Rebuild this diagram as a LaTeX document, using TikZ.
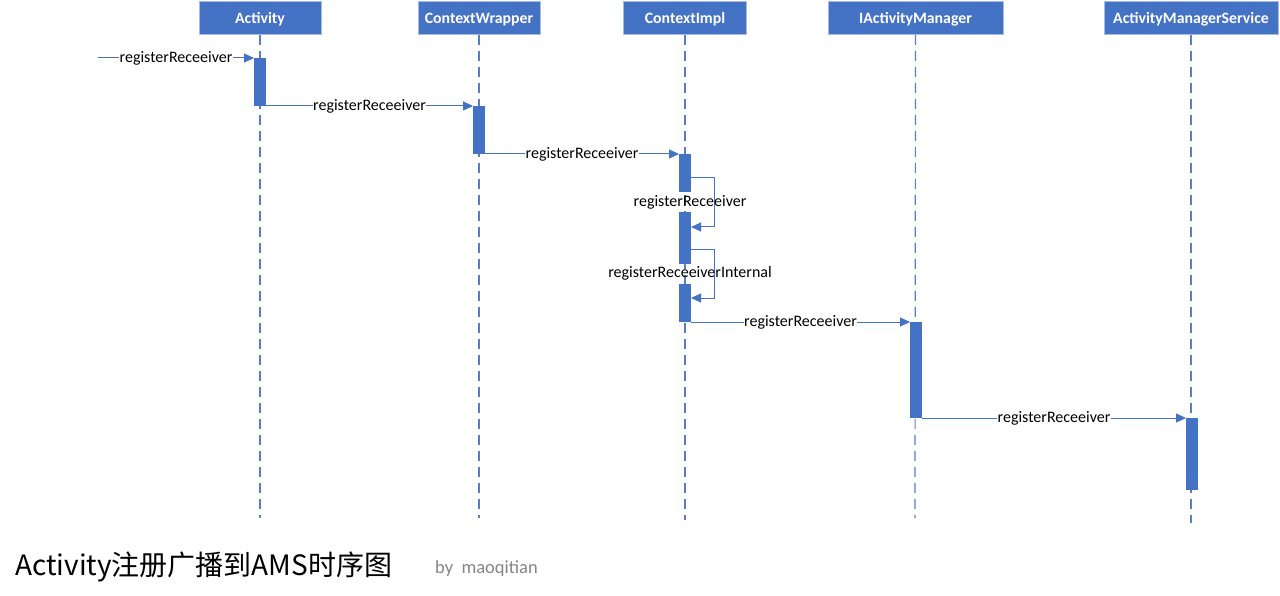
\documentclass[tikz,border=0pt]{standalone}
\usepackage{fontspec}
\setmainfont{Carlito}
\newfontfamily\cjkfont{Noto Sans CJK SC}
\usetikzlibrary{arrows.meta,calc}
\definecolor{mblue}{HTML}{4472C4}
\definecolor{lline}{HTML}{5B7EC2}
\definecolor{bordc}{HTML}{A9BCE0}
\definecolor{graytxt}{HTML}{858585}
\tikzset{
  head/.style={draw=bordc, line width=0.8pt, fill=mblue, text=white, font=\fontsize{15.8}{17}\selectfont\bfseries, minimum height=33pt, inner sep=0pt, anchor=north, text depth=0pt, yshift=0pt},
  life/.style={draw=lline, line width=1.2pt, dash pattern=on 10pt off 6pt},
  actbox/.style={fill=mblue, draw=none},
  msg/.style={draw=mblue, line width=1pt, -{Triangle[length=10pt,width=9pt]}},
  lbl/.style={fill=white, inner sep=0.5pt, font=\fontsize{16}{18}\selectfont, text=black},
}
\begin{document}
\begin{tikzpicture}[x=1pt,y=-1pt]
\useasboundingbox (0,0) rectangle (1280,596);
\fill[white] (0,0) rectangle (1280,596);
% headers
\node[head, minimum width=122pt] (hA) at (260,1) {Activity};
\node[head, minimum width=122pt] (hCW) at (479,1) {ContextWrapper};
\node[head, minimum width=123pt] (hCI) at (685,1) {ContextImpl};
\node[head, minimum width=175pt] (hIAM) at (915.5,1) {IActivityManager};
\node[head, minimum width=174pt] (hAMS) at (1191,1) {ActivityManagerService};
% lifeline ends
\coordinate (eA) at (260,518);
\coordinate (eCW) at (479,518);
\coordinate (eCI) at (685,520);
\coordinate (eIAM) at (915,518);
\coordinate (eAMS) at (1191,523);
\draw[life] (hA.south) -- (eA);
\draw[life] (hCW.south) -- (eCW);
\draw[life] (hCI.south) -- (eCI);
\draw[life] (hIAM.south) -- (eIAM);
\draw[life] (hAMS.south) -- (eAMS);
% activations
\fill[actbox] (254,58) rectangle (266,106);
\fill[actbox] (473,106) rectangle (485,154);
\fill[actbox] (679,154) rectangle (691,192);
\fill[actbox] (679,212) rectangle (691,264);
\fill[actbox] (679,284) rectangle (691,322);
\fill[actbox] (910,322) rectangle (922,418);
\fill[actbox] (1186,418) rectangle (1198,490);
\coordinate (a0) at (254,58);
\coordinate (a1s) at (266,106);
\coordinate (a1e) at (473,106);
\coordinate (a2s) at (485,154);
\coordinate (a2e) at (679,154);
\coordinate (s1s) at (691,178);
\coordinate (s1e) at (691,227);
\coordinate (s2s) at (691,250);
\coordinate (s2e) at (691,298);
\coordinate (a4s) at (691,322);
\coordinate (a4e) at (910,322);
\coordinate (a5s) at (922,418);
\coordinate (a5e) at (1186,418);
\coordinate (start) at (98,58);
% messages
\draw[msg] (start) -- node[lbl] (m1) {registerReceeiver} (a0);
\draw[msg] (a1s) -- node[lbl] (m2) {registerReceeiver} (a1e);
\draw[msg] (a2s) -- node[lbl] (m3) {registerReceeiver} (a2e);
\draw[msg] (s1s) -- ++(23,0) |- (s1e);
\node[lbl, fill=none] (m4) at (690,202) {registerReceeiver};
\draw[msg] (s2s) -- ++(23,0) |- (s2e);
\node[lbl, fill=none] (m5) at (690,273.5) {registerReceeiverInternal};
\draw[msg] (a4s) -- node[lbl] (m6) {registerReceeiver} (a4e);
\draw[msg] (a5s) -- node[lbl] (m7) {registerReceeiver} (a5e);
% title
\node[anchor=base west, inner sep=0pt, font=\cjkfont\fontsize{28}{31}\selectfont] (title) at (15,575) {Activity注册广播到AMS时序图};
\node[anchor=base west, inner sep=0pt, font=\fontsize{18.5}{20}\selectfont, text=graytxt] (by) at (435,573) {by\ \ maoqitian};
\end{tikzpicture}
\end{document}
